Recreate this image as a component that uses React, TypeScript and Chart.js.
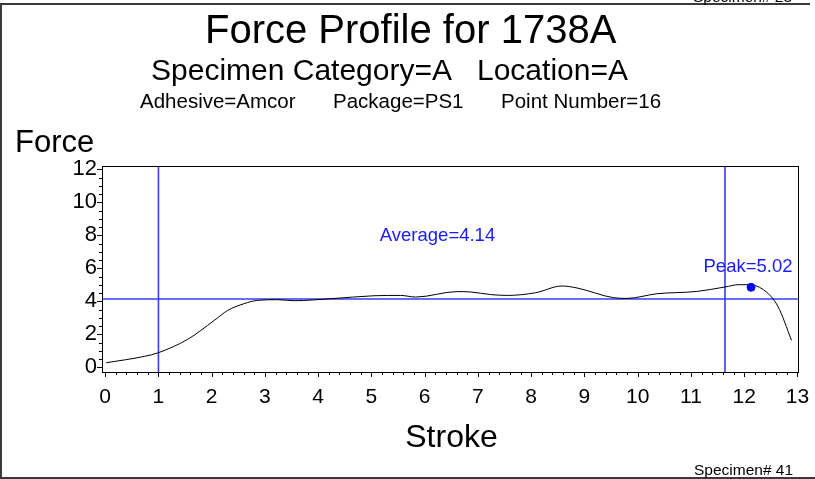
import React, { useEffect, useRef } from "react";
import { Chart, registerables } from "chart.js";

Chart.register(...registerables);

// ---- data ----
const strokeValues = [
  0.02, 0.74, 1.0, 1.55, 2.05, 2.3, 2.61, 2.86, 3.24, 3.55, 4.24, 5.05, 5.55, 5.83,
  6.61, 6.86, 7.24, 7.55, 8.08, 8.58, 8.86, 9.55, 9.8, 10.36, 11.11, 11.64, 11.9,
  12.08, 12.36, 12.63, 12.89,
];
const forceValues = [
  0.28, 0.67, 0.89, 1.7, 2.85, 3.45, 3.86, 4.06, 4.1, 4.04, 4.16, 4.34, 4.36, 4.26,
  4.59, 4.57, 4.41, 4.36, 4.52, 4.93, 4.81, 4.22, 4.18, 4.46, 4.6, 4.87, 5.01,
  5.01, 4.71, 3.72, 1.64,
];
const xTickValues = [0, 1, 2, 3, 4, 5, 6, 7, 8, 9, 10, 11, 12, 13];
const yTickValues = [0, 2, 4, 6, 8, 10, 12];
const xRange = [-0.06, 13.03];
const yRange = [-0.28, 12.2];
const averageForce = 4.14;
const markerStrokes = [1.0, 11.64];
const peakStroke = [12.13];
const peakForce = [4.85];

const titleLine = "Force Profile for 1738A";
const subtitleLine = "Specimen Category=A   Location=A";
const infoParts = ["Adhesive=Amcor", "Package=PS1", "Point Number=16"];
const averageLabel = "Average=4.14";
const peakLabel = "Peak=5.02";
const yTitle = "Force";
const xTitle = "Stroke";
const footerLabel = "Specimen# 41";
const headerLabel = "Specimen# 23";

const FONT = '"Liberation Sans", Arial, Helvetica, sans-serif';
const BLUE = "#1a1aff";
const LINE_BLUE = "#3a3aff";

const decorPlugin = {
  id: "decor",
  afterDraw(chart: any) {
    const { ctx, chartArea: a, scales } = chart;
    const xs = scales.x;
    const ys = scales.y;
    ctx.save();

    // plot box
    ctx.strokeStyle = "#000";
    ctx.lineWidth = 1;
    ctx.strokeRect(a.left + 0.5, a.top + 0.5, a.right - a.left - 1, a.bottom - a.top);

    // tick marks
    ctx.beginPath();
    for (let i = 0; i <= 65; i++) {
      const v = i * 0.2;
      const len = i % 5 === 0 ? 5 : 3;
      const px = Math.round(xs.getPixelForValue(v)) + 0.5;
      ctx.moveTo(px, a.bottom);
      ctx.lineTo(px, a.bottom + len);
    }
    for (let i = 0; i <= 24; i++) {
      const v = i * 0.5;
      const len = i % 4 === 0 ? 5 : 3;
      const py = Math.round(ys.getPixelForValue(v)) + 0.5;
      ctx.moveTo(a.left, py);
      ctx.lineTo(a.left - len, py);
    }
    ctx.stroke();

    // frame
    ctx.strokeStyle = "#3a3a3a";
    ctx.lineWidth = 2;
    ctx.beginPath();
    ctx.moveTo(0, 4);
    ctx.lineTo(810, 4);
    ctx.moveTo(1, 4);
    ctx.lineTo(1, 479);
    ctx.moveTo(0, 478);
    ctx.lineTo(815, 478);
    ctx.stroke();

    // texts
    ctx.fillStyle = "#000";
    ctx.textBaseline = "alphabetic";
    ctx.textAlign = "left";
    ctx.font = `40px ${FONT}`;
    ctx.fillText(titleLine, 205, 43);
    ctx.font = `30px ${FONT}`;
    ctx.fillText(subtitleLine, 151, 80);
    ctx.font = `20.5px ${FONT}`;
    ctx.fillText(infoParts[0], 140, 108);
    ctx.fillText(infoParts[1], 333, 108);
    ctx.fillText(infoParts[2], 501, 108);
    ctx.font = `31px ${FONT}`;
    ctx.fillText(yTitle, 15, 152);
    ctx.textAlign = "center";
    ctx.font = `32px ${FONT}`;
    ctx.fillText(xTitle, 451.5, 447);
    ctx.textAlign = "left";
    ctx.font = `15.5px ${FONT}`;
    ctx.fillText(footerLabel, 694, 475);
    ctx.fillText(headerLabel, 693, 2);

    ctx.fillStyle = BLUE;
    ctx.font = `18.5px ${FONT}`;
    ctx.textAlign = "center";
    ctx.fillText(averageLabel, 437.5, 241);
    ctx.fillText(peakLabel, 748, 271.5);
    ctx.restore();
  },
};

const refLine = (pts: { x: number; y: number }[]) => ({
  data: pts,
  borderColor: LINE_BLUE,
  borderWidth: 1.6,
  pointRadius: 0,
  tension: 0,
  fill: false,
});

export default function App() {
  const ref = useRef<HTMLCanvasElement | null>(null);
  useEffect(() => {
    if (!ref.current) return;
    const chart = new Chart(ref.current, {
      type: "line",
      data: {
        datasets: [
          {
            data: peakStroke.map((x, i) => ({ x, y: peakForce[i] })),
            showLine: false,
            pointRadius: 4,
            pointBackgroundColor: "#0000ff",
            pointBorderColor: "#0000ff",
          },
          {
            data: strokeValues.map((x, i) => ({ x, y: forceValues[i] })),
            borderColor: "#000",
            borderWidth: 1,
            pointRadius: 0,
            cubicInterpolationMode: "monotone",
            fill: false,
          },
          refLine(xRange.map((x) => ({ x, y: averageForce }))),
          ...markerStrokes.map((m) => refLine(yRange.map((y) => ({ x: m, y })))),
        ],
      },
      options: {
        responsive: false,
        animation: false,
        devicePixelRatio: 1,
        layout: { padding: { top: 166, right: 16, left: 0, bottom: 0 } },
        plugins: { legend: { display: false }, tooltip: { enabled: false }, title: { display: false } },
        scales: {
          x: {
            type: "linear",
            min: xRange[0],
            max: xRange[1],
            grid: { display: false, drawTicks: false },
            border: { display: false },
            ticks: {
              padding: 13,
              autoSkip: false,
              maxRotation: 0,
              color: "#000",
              font: { size: 21, family: FONT },
              callback: (v: any) => String(v),
            },
            afterBuildTicks: (s: any) => {
              s.ticks = xTickValues.map((value) => ({ value }));
            },
            afterFit: (s: any) => {
              s.height = 107;
              s.paddingLeft = 0;
              s.paddingRight = 0;
            },
          },
          y: {
            type: "linear",
            min: yRange[0],
            max: yRange[1],
            grid: { display: false, drawTicks: false },
            border: { display: false },
            ticks: {
              padding: 5,
              autoSkip: false,
              color: "#000",
              font: { size: 22, family: FONT },
              callback: (v: any) => String(v),
            },
            afterBuildTicks: (s: any) => {
              s.ticks = yTickValues.map((value) => ({ value }));
            },
            afterFit: (s: any) => {
              s.width = 102;
              s.paddingTop = 0;
              s.paddingBottom = 0;
            },
          },
        },
      } as any,
      plugins: [decorPlugin],
    });
    return () => chart.destroy();
  }, []);
  return (
    <div style={{ position: "absolute", left: 0, top: 0, width: 815, height: 479, background: "#fff" }}>
      <canvas ref={ref} width={815} height={479} style={{ display: "block" }} />
    </div>
  );
}
